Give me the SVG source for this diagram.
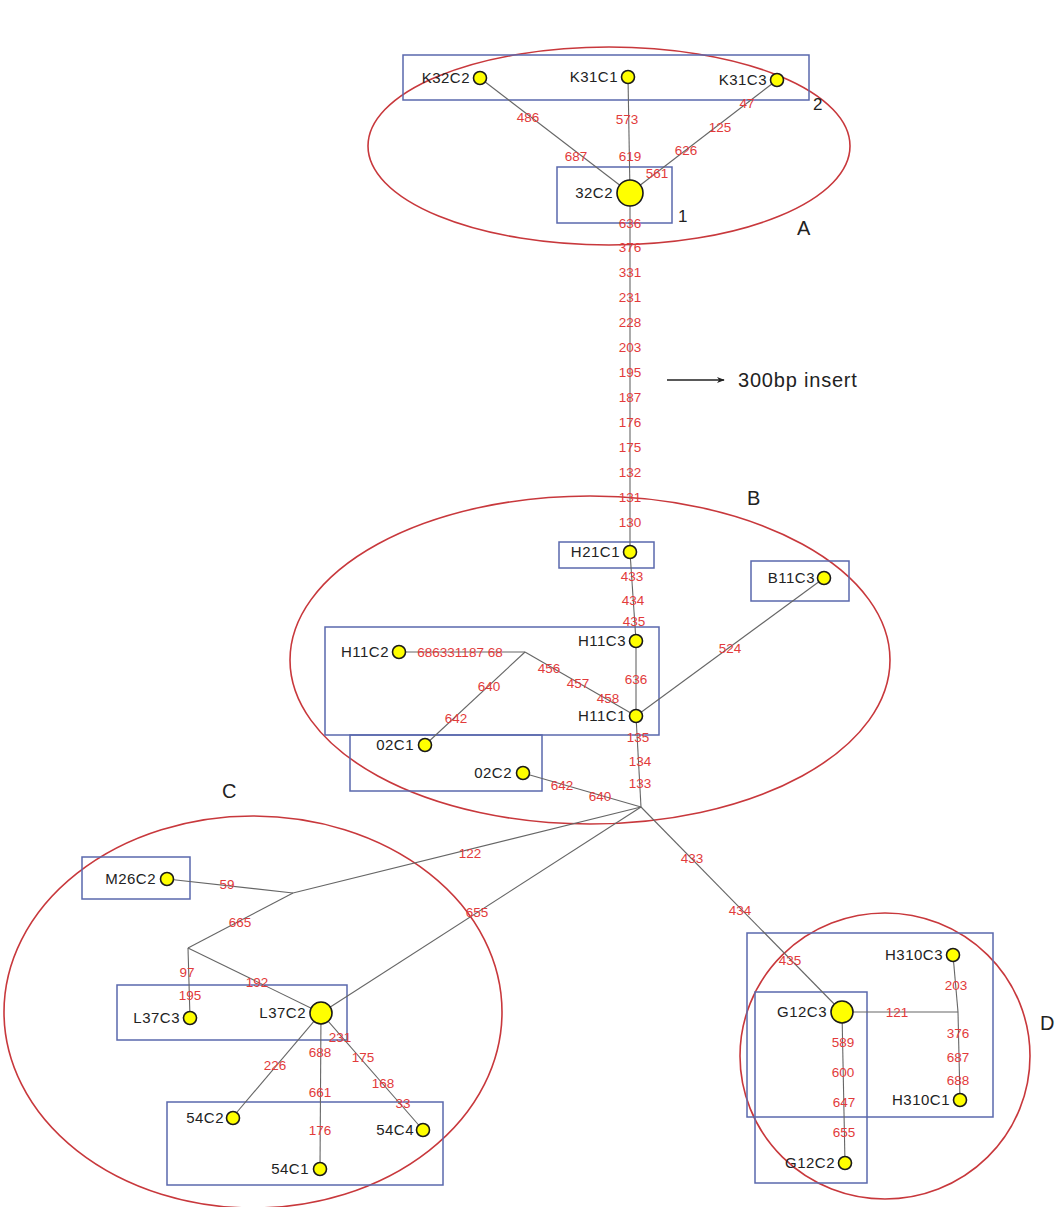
<svg xmlns="http://www.w3.org/2000/svg" width="1062" height="1207" viewBox="0 0 1062 1207">
<style>
.ell{fill:none;stroke:#c8383c;stroke-width:1.6}
.box{fill:none;stroke:#5a68ad;stroke-width:1.5}
.edge{fill:none;stroke:#666;stroke-width:1.1}
.lbl{font-family:"Liberation Sans",Arial,sans-serif;font-size:13.5px;fill:#e23b3b;text-anchor:middle}
.name{font-family:"Liberation Sans",Arial,sans-serif;font-size:15px;fill:#222;letter-spacing:0.5px;text-anchor:end}
.nd{fill:#ffff00;stroke:#1a1a1a;stroke-width:1.6}
.big{font-family:"Liberation Sans",Arial,sans-serif;font-size:20px;fill:#222}
.num{font-family:"Liberation Sans",Arial,sans-serif;font-size:17px;fill:#222}
</style>
<defs>
<marker id="arr" viewBox="0 0 10 10" refX="9" refY="5" markerWidth="8" markerHeight="8" orient="auto" markerUnits="userSpaceOnUse">
<path d="M0,1 L10,5 L0,9 L3,5 Z" fill="#222"/>
</marker>
</defs>
<rect width="1062" height="1207" fill="#fff"/>

<g id="clusters">
<ellipse class="ell" cx="609" cy="146" rx="241" ry="99"/>
<ellipse class="ell" cx="590" cy="660" rx="300" ry="164"/>
<ellipse class="ell" cx="253" cy="1012" rx="249" ry="196"/>
<ellipse class="ell" cx="885" cy="1056" rx="145" ry="143"/>
<rect class="box" x="403" y="55" width="406" height="45"/>
<rect class="box" x="557" y="167" width="115" height="56"/>
<rect class="box" x="559" y="542" width="95" height="26"/>
<rect class="box" x="751" y="561" width="98" height="40"/>
<rect class="box" x="325" y="627" width="334" height="108"/>
<rect class="box" x="350" y="735" width="192" height="56"/>
<rect class="box" x="82" y="857" width="108" height="42"/>
<rect class="box" x="117" y="985" width="230" height="55"/>
<rect class="box" x="167" y="1102" width="276" height="83"/>
<rect class="box" x="747" y="933" width="246" height="184"/>
<rect class="box" x="755" y="992" width="112" height="191"/>
<text class="big" x="797" y="235">A</text>
<text class="big" x="747" y="505">B</text>
<text class="big" x="222" y="798">C</text>
<text class="big" x="1040" y="1030">D</text>
<text class="num" x="678" y="222">1</text>
<text class="num" x="813" y="110">2</text>
</g>

<g id="annotation">
<line x1="667" y1="380" x2="724" y2="380" stroke="#222" stroke-width="1.6" marker-end="url(#arr)"/>
<text class="big" x="738" y="387" style="letter-spacing:0.8px">300bp insert</text>
</g>

<g id="connectors">
<line class="edge" x1="480" y1="78" x2="630" y2="193"/>
<line class="edge" x1="628" y1="77" x2="630" y2="193"/>
<line class="edge" x1="777" y1="80" x2="630" y2="193"/>
<line class="edge" x1="630" y1="193" x2="630" y2="552"/>
<line class="edge" x1="630" y1="552" x2="636" y2="641"/>
<line class="edge" x1="636" y1="641" x2="636" y2="716"/>
<line class="edge" x1="636" y1="716" x2="641" y2="807"/>
<line class="edge" x1="399" y1="652" x2="525" y2="652"/>
<line class="edge" x1="525" y1="652" x2="636" y2="716"/>
<line class="edge" x1="525" y1="652" x2="425" y2="745"/>
<line class="edge" x1="824" y1="578" x2="636" y2="716"/>
<line class="edge" x1="523" y1="773" x2="641" y2="807"/>
<line class="edge" x1="641" y1="807" x2="293" y2="893"/>
<line class="edge" x1="641" y1="807" x2="321" y2="1013"/>
<line class="edge" x1="641" y1="807" x2="842" y2="1012"/>
<line class="edge" x1="167" y1="879" x2="293" y2="893"/>
<line class="edge" x1="293" y1="893" x2="188" y2="948"/>
<line class="edge" x1="188" y1="948" x2="190" y2="1018"/>
<line class="edge" x1="188" y1="948" x2="321" y2="1013"/>
<line class="edge" x1="321" y1="1013" x2="232" y2="1118"/>
<line class="edge" x1="321" y1="1013" x2="320" y2="1169"/>
<line class="edge" x1="321" y1="1013" x2="423" y2="1130"/>
<line class="edge" x1="842" y1="1012" x2="958" y2="1012"/>
<line class="edge" x1="958" y1="1012" x2="953" y2="955"/>
<line class="edge" x1="958" y1="1012" x2="960" y2="1100"/>
<line class="edge" x1="842" y1="1012" x2="845" y2="1163"/>
<g id="edge-labels">
<text class="lbl" x="528" y="122">486</text>
<text class="lbl" x="576" y="161">687</text>
<text class="lbl" x="627" y="124">573</text>
<text class="lbl" x="630" y="161">619</text>
<text class="lbl" x="747" y="108">47</text>
<text class="lbl" x="720" y="132">125</text>
<text class="lbl" x="686" y="155">626</text>
<text class="lbl" x="657" y="178">561</text>
<text class="lbl" x="630" y="228">636</text>
<text class="lbl" x="630" y="252">376</text>
<text class="lbl" x="630" y="277">331</text>
<text class="lbl" x="630" y="302">231</text>
<text class="lbl" x="630" y="327">228</text>
<text class="lbl" x="630" y="352">203</text>
<text class="lbl" x="630" y="377">195</text>
<text class="lbl" x="630" y="402">187</text>
<text class="lbl" x="630" y="427">176</text>
<text class="lbl" x="630" y="452">175</text>
<text class="lbl" x="630" y="477">132</text>
<text class="lbl" x="630" y="502">131</text>
<text class="lbl" x="630" y="527">130</text>
<text class="lbl" x="632" y="581">433</text>
<text class="lbl" x="633" y="605">434</text>
<text class="lbl" x="634" y="626">435</text>
<text class="lbl" x="636" y="684">636</text>
<text class="lbl" x="638" y="742">135</text>
<text class="lbl" x="640" y="766">134</text>
<text class="lbl" x="640" y="788">133</text>
<text class="lbl" x="460" y="657">686331187 68</text>
<text class="lbl" x="549" y="673">456</text>
<text class="lbl" x="578" y="688">457</text>
<text class="lbl" x="608" y="703">458</text>
<text class="lbl" x="489" y="691">640</text>
<text class="lbl" x="456" y="723">642</text>
<text class="lbl" x="730" y="653">524</text>
<text class="lbl" x="562" y="790">642</text>
<text class="lbl" x="600" y="801">640</text>
<text class="lbl" x="470" y="858">122</text>
<text class="lbl" x="477" y="917">655</text>
<text class="lbl" x="692" y="863">433</text>
<text class="lbl" x="740" y="915">434</text>
<text class="lbl" x="790" y="965">435</text>
<text class="lbl" x="227" y="889">59</text>
<text class="lbl" x="240" y="927">665</text>
<text class="lbl" x="187" y="977">97</text>
<text class="lbl" x="190" y="1000">195</text>
<text class="lbl" x="257" y="987">192</text>
<text class="lbl" x="340" y="1042">231</text>
<text class="lbl" x="320" y="1057">688</text>
<text class="lbl" x="320" y="1097">661</text>
<text class="lbl" x="320" y="1135">176</text>
<text class="lbl" x="275" y="1070">226</text>
<text class="lbl" x="363" y="1062">175</text>
<text class="lbl" x="383" y="1088">168</text>
<text class="lbl" x="403" y="1108">33</text>
<text class="lbl" x="897" y="1017">121</text>
<text class="lbl" x="956" y="990">203</text>
<text class="lbl" x="958" y="1038">376</text>
<text class="lbl" x="958" y="1062">687</text>
<text class="lbl" x="958" y="1085">688</text>
<text class="lbl" x="843" y="1047">589</text>
<text class="lbl" x="843" y="1077">600</text>
<text class="lbl" x="844" y="1107">647</text>
<text class="lbl" x="844" y="1137">655</text>
</g>
</g>

<g id="node-K32C2"><circle class="nd" cx="480" cy="78" r="6.5"/><text class="name" x="470" y="83">K32C2</text></g>
<g id="node-K31C1"><circle class="nd" cx="628" cy="77" r="6.5"/><text class="name" x="618" y="82">K31C1</text></g>
<g id="node-K31C3"><circle class="nd" cx="777" cy="80" r="6.5"/><text class="name" x="767" y="85">K31C3</text></g>
<g id="node-32C2"><circle class="nd" cx="630" cy="193" r="13"/><text class="name" x="613" y="198">32C2</text></g>
<g id="node-H21C1"><circle class="nd" cx="630" cy="552" r="6.5"/><text class="name" x="620" y="557">H21C1</text></g>
<g id="node-B11C3"><circle class="nd" cx="824" cy="578" r="6.5"/><text class="name" x="815" y="583">B11C3</text></g>
<g id="node-H11C3"><circle class="nd" cx="636" cy="641" r="6.5"/><text class="name" x="626" y="646">H11C3</text></g>
<g id="node-H11C2"><circle class="nd" cx="399" cy="652" r="6.5"/><text class="name" x="389" y="657">H11C2</text></g>
<g id="node-H11C1"><circle class="nd" cx="636" cy="716" r="6.5"/><text class="name" x="626" y="721">H11C1</text></g>
<g id="node-02C1"><circle class="nd" cx="425" cy="745" r="6.5"/><text class="name" x="414" y="750">02C1</text></g>
<g id="node-02C2"><circle class="nd" cx="523" cy="773" r="6.5"/><text class="name" x="512" y="778">02C2</text></g>
<g id="node-M26C2"><circle class="nd" cx="167" cy="879" r="6.5"/><text class="name" x="156" y="884">M26C2</text></g>
<g id="node-L37C3"><circle class="nd" cx="190" cy="1018" r="6.5"/><text class="name" x="180" y="1023">L37C3</text></g>
<g id="node-L37C2"><circle class="nd" cx="321" cy="1013" r="11"/><text class="name" x="306" y="1018">L37C2</text></g>
<g id="node-54C2"><circle class="nd" cx="233" cy="1118" r="6.5"/><text class="name" x="224" y="1123">54C2</text></g>
<g id="node-54C4"><circle class="nd" cx="423" cy="1130" r="6.5"/><text class="name" x="414" y="1135">54C4</text></g>
<g id="node-54C1"><circle class="nd" cx="320" cy="1169" r="6.5"/><text class="name" x="309" y="1174">54C1</text></g>
<g id="node-G12C3"><circle class="nd" cx="842" cy="1012" r="11"/><text class="name" x="827" y="1017">G12C3</text></g>
<g id="node-G12C2"><circle class="nd" cx="845" cy="1163" r="6.5"/><text class="name" x="835" y="1168">G12C2</text></g>
<g id="node-H310C3"><circle class="nd" cx="953" cy="955" r="6.5"/><text class="name" x="943" y="960">H310C3</text></g>
<g id="node-H310C1"><circle class="nd" cx="960" cy="1100" r="6.5"/><text class="name" x="950" y="1105">H310C1</text></g>
</svg>
